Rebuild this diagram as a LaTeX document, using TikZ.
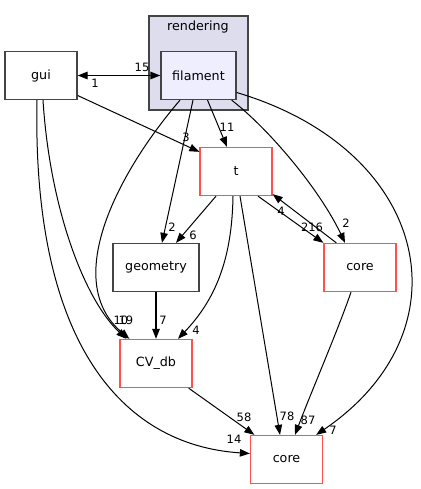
\documentclass[tikz,border=0pt]{standalone}
\usepackage{fontspec}
\setmainfont{DejaVu Sans}
\usetikzlibrary{arrows.meta}
\definecolor{doxred}{RGB}{255,80,80}
\definecolor{doxgray}{RGB}{68,68,68}
\definecolor{clusterfill}{RGB}{221,221,238}
\definecolor{dirfill}{RGB}{238,238,255}

\begin{document}
\begin{tikzpicture}[x=1pt, y=-1pt,
    dirbox/.style={draw=doxgray, line width=1.3pt, minimum width=72pt, minimum height=48pt, inner sep=0pt, font=\fontsize{12.7}{15}\selectfont},
    truncbox/.style={dirbox, draw=doxred},
    edgelbl/.style={inner sep=0pt, font=\fontsize{11.5}{13}\selectfont},
    dep/.style={-{Triangle[length=10pt,width=7.5pt]}, line width=1pt}]
                    \useasboundingbox (0,0) rectangle (420,489);
                    % cluster
                    \node [draw=doxgray, fill=clusterfill, line width=1.3pt, minimum width=99pt, minimum height=94pt] (rendering) at (198.5,63) {};
                    \node [inner sep=0pt, font=\fontsize{12.7}{15}\selectfont] (renderinglbl) at (198,27) {rendering};
                    % directories
                    \node [dirbox, fill=dirfill, minimum width=75pt] (filament) at (198.5,75.5) {filament};
                    \node [dirbox] (gui) at (41,75.5) {gui};
                    \node [truncbox] (t) at (236,171.5) {t};
                    \node [dirbox, minimum width=86pt] (geometry) at (156,267.5) {geometry};
                    \node [truncbox] (corer) at (360,267.5) {core};
                    \node [truncbox] (cvdb) at (156,363.5) {CV\_db};
                    \node [truncbox] (coreb) at (286.5,459.5) {core};
                    % dependencies
                    \draw [{Triangle[length=10pt,width=7.5pt]}-{Triangle[length=10pt,width=7.5pt]}, line width=1.3pt] (gui.east) -- (filament.west);
                    \draw [dep] ([yshift=-20pt]gui.east) -- ([yshift=-5pt]t.north west);
                    \draw [dep] ([xshift=2pt]gui.south) .. controls (50,210) and (85,300) .. ([xshift=7pt]cvdb.north west);
                    \draw [dep] ([xshift=-4pt]gui.south) .. controls (32,340) and (120,445) .. ([yshift=6pt]coreb.west);
                    \draw [dep] ([xshift=9pt]filament.south) -- ([xshift=-9pt]t.north);
                    \draw [dep] ([xshift=-5.5pt]filament.south) -- ([xshift=6pt]geometry.north);
                    \draw [dep] ([xshift=-18.5pt]filament.south) .. controls (120,170) and (60,280) .. ([xshift=10pt]cvdb.north west);
                    \draw [dep] ([xshift=-5pt]filament.south east) .. controls (270,130) and (320,190) .. ([xshift=-15pt]corer.north);
                    \draw [dep] ([yshift=-17pt]filament.east) .. controls (430,150) and (470,330) .. ([xshift=-7pt]coreb.north east);
                    \draw [dep] ([xshift=-20pt]t.south) -- ([xshift=20pt]geometry.north);
                    \draw [dep] ([xshift=-3pt]t.south) .. controls (232,260) and (215,300) .. ([xshift=22pt]cvdb.north);
                    \draw [dep] ([xshift=4pt]t.south) -- ([xshift=-6.5pt]coreb.north);
                    \draw [dep] ([xshift=22pt]t.south) -- (corer.north west);
                    \draw [dep] ([xshift=13pt]corer.north west) -- ([yshift=2pt]t.south east);
                    \draw [dep, line width=1.3pt] (geometry) -- (cvdb);
                    \draw [dep] ([xshift=-4pt]cvdb.south east) -- ([xshift=4.5pt]coreb.north west);
                    \draw [dep] ([xshift=-9pt]corer.south) .. controls (338,330) and (312,390) .. ([xshift=8.5pt]coreb.north);
                    % counts
                    \node [edgelbl] (lblguifil) at (142,67) {15};
                    \node [edgelbl] (lblfilgui) at (95,83) {1};
                    \node [edgelbl] (lblguit) at (186,137) {3};
                    \node [edgelbl] (lblguicv) at (121,320) {10};
                    \node [edgelbl] (lblfilcv) at (126,320) {19};
                    \node [edgelbl] (lblguicore) at (234,439) {14};
                    \node [edgelbl] (lblfilt) at (227,127) {11};
                    \node [edgelbl] (lblfilgeo) at (172,227) {2};
                    \node [edgelbl] (lblfilcorer) at (346,223) {2};
                    \node [edgelbl] (lblfilcoreb) at (333,430) {7};
                    \node [edgelbl] (lbltgeo) at (193,235) {6};
                    \node [edgelbl] (lbltcv) at (196,330) {4};
                    \node [edgelbl] (lbltcoreb) at (287,416) {78};
                    \node [edgelbl] (lbltcorer) at (312,227) {216};
                    \node [edgelbl] (lblcorert) at (281,211) {4};
                    \node [edgelbl] (lblgeocv) at (163,320) {7};
                    \node [edgelbl] (lblcvcore) at (244,417) {58};
                    \node [edgelbl] (lblcorercoreb) at (308,420) {87};
\end{tikzpicture}
\end{document}
